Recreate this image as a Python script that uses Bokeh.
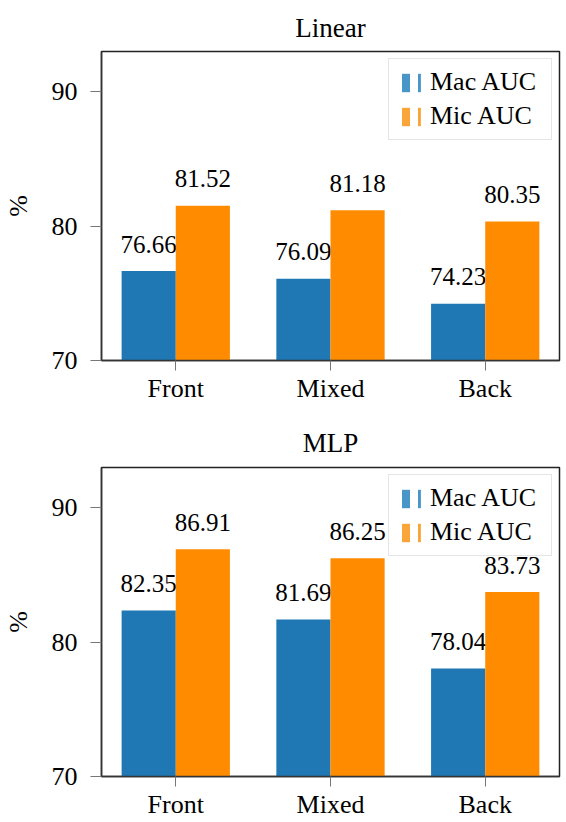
from bokeh.plotting import figure
from bokeh.layouts import column
from bokeh.embed import file_html
from bokeh.resources import INLINE
from bokeh.core.properties import value
from bokeh.models import Range1d, ColumnDataSource, Legend, LegendItem

categories = ["Front", "Mixed", "Back"]
linear_mac = [76.66, 76.09, 74.23]
linear_mic = [81.52, 81.18, 80.35]
mlp_mac = [82.35, 81.69, 78.04]
mlp_mic = [86.91, 86.25, 83.73]
y_ticks = [70, 80, 90]
series_names = ["Mac AUC", "Mic AUC"]

BLUE = "#1f77b4"
ORANGE = "#ff8c00"
FONT = "Liberation Serif"
BAR_W = 0.35


def make_panel(title, mac, mic, height, top, bottom, title_gap):
    p = figure(width=562, height=height, title=title,
               x_range=Range1d(-0.48, 2.48), y_range=Range1d(70, 93),
               output_backend="svg", toolbar_location=None,
               min_border_left=94, min_border_right=3,
               min_border_top=top, min_border_bottom=bottom)

    idx = list(range(len(categories)))
    items = []
    for name, vals, shift, color, light in [
            (series_names[0], mac, -BAR_W / 2, BLUE, "#4a95c8"),
            (series_names[1], mic, BAR_W / 2, ORANGE, "#f9a53a")]:
        src = ColumnDataSource(data=dict(
            x=[i + shift for i in idx],
            top=vals,
            label=["%.2f" % v for v in vals],
        ))
        p.vbar(x="x", top="top", bottom=70, width=BAR_W, source=src,
               fill_color=color, line_color=None)
        p.text(x="x", y="top", text="label", source=src, y_offset=-27,
               text_align="center", text_baseline="alphabetic",
               text_font=value(FONT), text_font_size="25px", text_color="black")
        # hidden proxy: striped swatch like the pgfplots ybar legend
        proxy = p.vbar(x="x", top="top", bottom=70, width=BAR_W, source=src,
                       fill_color="white", line_color=None,
                       hatch_pattern="vertical_line", hatch_color=light,
                       hatch_weight=8, hatch_scale=16, visible=False)
        items.append(LegendItem(label=name, renderers=[proxy]))

    legend = Legend(items=items, location="top_right", margin=7,
                    border_line_color="#cccccc", border_line_width=1.5,
                    label_text_font=FONT, label_text_font_size="26px",
                    label_text_color="black",
                    glyph_width=26, glyph_height=23, label_standoff=7,
                    label_height=30, label_width=113, spacing=4, padding=8,
                    inactive_fill_alpha=0)
    p.add_layout(legend)

    p.title.text_font = FONT
    p.title.text_font_size = "27px"
    p.title.text_font_style = "normal"
    p.title.text_color = "black"
    p.title.align = "center"
    p.title.standoff = title_gap

    p.xgrid.visible = False
    p.ygrid.visible = False
    p.outline_line_color = "#222222"
    p.outline_line_width = 1.5

    p.yaxis.ticker = y_ticks
    p.yaxis.axis_label = "%"
    p.yaxis.axis_label_text_font = FONT
    p.yaxis.axis_label_text_font_size = "26px"
    p.yaxis.axis_label_text_font_style = "normal"
    p.yaxis.axis_label_text_color = "black"
    p.yaxis.axis_label_standoff = 16

    p.xaxis.ticker = idx
    p.xaxis.major_label_overrides = dict(zip(idx, categories))

    for ax in [p.xaxis, p.yaxis]:
        ax.axis_line_color = "#333333"
        ax.axis_line_width = 1.5
        ax.major_tick_in = 0
        ax.major_tick_out = 11
        ax.major_tick_line_color = "#777777"
        ax.minor_tick_in = 0
        ax.minor_tick_out = 0
        ax.major_label_text_font = FONT
        ax.major_label_text_font_size = "26px"
        ax.major_label_text_color = "black"
    p.yaxis.major_label_standoff = 13
    p.xaxis.major_tick_out = 10
    p.xaxis.major_label_standoff = 3
    return p


p1 = make_panel("Linear", linear_mac, linear_mic, 414, 51, 54, 17)
p2 = make_panel("MLP", mlp_mac, mlp_mic, 408, 53, 46, 19)
p = column(p1, p2, spacing=0)

open("out.html", "w").write(file_html(p, INLINE))
